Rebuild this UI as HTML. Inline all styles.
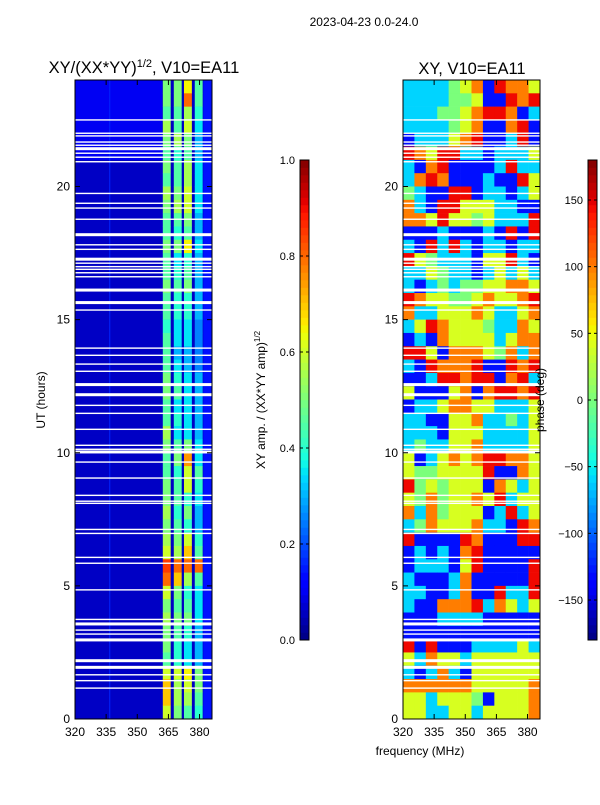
<!DOCTYPE html>
<html><head><meta charset="utf-8"><style>
body{margin:0;background:#fff;width:600px;height:800px;overflow:hidden}
svg text{font-family:"Liberation Sans",sans-serif;fill:#000}
</style></head><body>
<svg id="fig" width="600" height="800" xmlns="http://www.w3.org/2000/svg">
<text x="364" y="26" font-size="12" text-anchor="middle">2023-04-23 0.0-24.0</text>
<text x="144" y="73" font-size="16.5" text-anchor="middle">XY/(XX*YY)<tspan font-size="11" dy="-6">1/2</tspan><tspan dy="6">, V10=EA11</tspan></text>
<text x="472" y="74" font-size="16.5" text-anchor="middle">XY, V10=EA11</text>
<text transform="translate(45,400) rotate(-90)" font-size="12" text-anchor="middle">UT (hours)</text>
<text x="420" y="755" font-size="12" text-anchor="middle">frequency (MHz)</text>
<text transform="translate(265,400) rotate(-90)" font-size="12" text-anchor="middle">XY amp. / (XX*YY amp)<tspan font-size="8" dy="-5">1/2</tspan></text>
<g id="amp"></g>
<g id="phase"></g>
<g id="cbars"></g>
<g id="axes"></g>
<text transform="translate(544,400) rotate(-90)" font-size="12" text-anchor="middle">phase (deg)</text>
</svg>
<script>
const freqTicks=[320,335,350,365,380];
const hourTicks=[0,5,10,15,20];
const ampTicks=[0.0,0.2,0.4,0.6,0.8,1.0];
const phaseTicks=[-150,-100,-50,0,50,100,150];
const bandCenters=[364.2,369.5,374.4,379.6];
const gapHours=[22.50,22.0,21.90,21.67,21.55,21.42,21.25,21.10,20.93,19.74,19.37,19.19,18.77,18.19,17.81,17.64,17.27,17.12,16.99,16.89,16.76,16.61,16.11,15.64,15.36,13.93,13.66,13.33,13.06,12.56,12.18,11.78,11.48,10.88,10.28,10.13,10.03,9.65,9.05,8.40,8.18,8.10,7.12,6.97,6.07,5.85,4.85,3.74,3.57,3.34,3.19,2.97,2.19,1.94,1.66,1.44,1.16];
const gapThick=[21.42,18.19,17.27,16.11,15.64,12.56,12.18,10.03,3.57,2.97,2.19,1.94];
const ampRows=[
[0.5,0.5,0.65,0.45],[0.5,0.5,0.8,0.45],[0.45,0.45,0.55,0.4],[0.55,0.45,0.6,0.35],[0.5,0.55,0.5,0.3],[0.45,0.4,0.45,0.3],
[0.5,0.45,0.55,0.35],[0.45,0.45,0.55,0.35],[0.55,0.5,0.6,0.35],[0.5,0.55,0.6,0.35],[0.45,0.45,0.5,0.3],[0.45,0.4,0.45,0.3],
[0.5,0.5,0.65,0.35],[0.45,0.35,0.4,0.3],[0.45,0.4,0.45,0.3],[0.5,0.45,0.5,0.3],[0.45,0.4,0.4,0.3],[0.45,0.4,0.4,0.3],
[0.4,0.35,0.35,0.25],[0.45,0.35,0.35,0.25],[0.45,0.3,0.3,0.25],[0.45,0.35,0.3,0.25],[0.5,0.4,0.35,0.3],[0.5,0.45,0.35,0.3],
[0.45,0.35,0.35,0.3],[0.45,0.4,0.35,0.3],[0.55,0.35,0.35,0.3],[0.5,0.45,0.5,0.35],[0.45,0.5,0.75,0.35],[0.45,0.4,0.6,0.45],
[0.5,0.45,0.6,0.4],[0.5,0.45,0.4,0.35],[0.55,0.4,0.5,0.3],[0.5,0.45,0.4,0.3],[0.55,0.5,0.6,0.4],[0.6,0.55,0.7,0.45],
[0.85,0.8,0.8,0.8],[0.8,0.7,0.55,0.45],[0.6,0.5,0.4,0.35],[0.5,0.45,0.45,0.35],[0.55,0.5,0.5,0.35],[0.5,0.45,0.4,0.3],
[0.5,0.4,0.35,0.3],[0.45,0.4,0.35,0.3],[0.6,0.6,0.65,0.5],[0.7,0.55,0.6,0.5],[0.7,0.55,0.55,0.45],[0.6,0.5,0.45,0.4]];
const B=-130,C=-60,G=0,Y=40,O=100,R=145;
const phaseRows=[
[C,C,C,C,G,Y,O,B,R,O,O,Y],[C,C,C,C,G,G,Y,B,B,R,O,R],[C,C,C,G,G,Y,O,R,R,O,B,C],[C,C,C,C,G,Y,O,B,B,O,R,B],
[B,C,C,C,Y,O,R,B,B,C,R,B],[R,O,Y,R,R,C,C,B,C,C,C,Y],[C,B,O,R,B,B,B,B,C,R,C,C],[C,O,R,O,B,B,B,C,B,B,R,Y],
[G,C,B,B,R,R,B,C,C,B,C,Y],[O,C,B,R,R,Y,Y,Y,C,C,B,B],[O,O,Y,R,Y,Y,G,Y,C,C,C,R],[B,B,B,C,B,B,B,C,B,R,B,R],
[C,B,R,C,R,C,B,C,C,B,C,C],[R,Y,G,C,C,C,B,Y,Y,R,C,B],[C,C,Y,G,C,C,B,C,Y,C,Y,C],[C,B,C,G,C,G,G,Y,Y,O,O,Y],
[R,O,Y,Y,G,G,Y,O,Y,Y,O,R],[O,C,C,Y,Y,Y,O,Y,C,C,Y,O],[C,Y,R,O,Y,Y,Y,G,C,C,O,Y],[B,C,B,O,Y,Y,Y,Y,C,Y,O,O],
[R,R,Y,B,O,O,O,Y,G,O,C,O],[C,B,R,O,O,O,R,B,B,R,O,R],[B,B,C,R,R,O,R,R,B,O,R,C],[Y,B,B,B,Y,O,B,O,R,R,O,R],
[B,C,C,Y,O,O,Y,Y,C,C,C,Y],[C,C,B,B,Y,Y,O,C,C,G,C,Y],[C,C,C,B,Y,Y,Y,C,C,C,C,Y],[C,G,C,C,Y,Y,O,C,C,C,C,Y],
[Y,B,C,Y,O,Y,O,R,R,O,O,Y],[Y,G,G,Y,Y,Y,Y,R,B,B,O,Y],[R,G,Y,G,Y,Y,Y,B,O,Y,C,Y],[Y,G,O,G,Y,Y,O,Y,R,C,Y,Y],
[O,C,O,G,Y,Y,Y,B,C,R,C,Y],[C,G,O,Y,Y,Y,O,C,C,B,R,O],[R,B,B,B,B,R,O,B,B,B,R,R],[B,C,B,C,B,O,R,B,B,B,B,B],
[B,C,C,C,B,Y,R,B,B,B,B,R],[C,B,B,B,C,O,B,B,B,B,B,R],[C,C,B,B,C,O,B,B,R,C,C,R],[C,B,B,O,O,O,R,C,O,Y,C,Y],
[B,B,B,C,C,C,C,B,B,B,B,B],[B,B,B,B,B,B,B,B,B,B,B,B],[R,B,R,B,B,B,C,C,C,C,Y,C],[Y,C,O,Y,Y,C,Y,Y,Y,Y,Y,Y],
[C,B,C,O,C,B,Y,Y,Y,Y,Y,Y],[O,O,O,O,O,O,Y,Y,Y,Y,Y,O],[Y,Y,C,Y,Y,Y,G,B,Y,Y,Y,O],[Y,Y,C,C,Y,Y,C,Y,Y,Y,Y,O]];

const NS='http://www.w3.org/2000/svg';
function jet(v){v=Math.max(0,Math.min(1,v));
 function p(pts){for(let i=1;i<pts.length;i++){if(v<=pts[i][0]){const a=pts[i-1],b=pts[i];return a[1]+(b[1]-a[1])*(v-a[0])/(b[0]-a[0]);}}return pts[pts.length-1][1];}
 const r=p([[0,0],[0.35,0],[0.66,1],[0.89,1],[1,0.5]]),g=p([[0,0],[0.125,0],[0.375,1],[0.64,1],[0.91,0],[1,0]]),b=p([[0,0.5],[0.11,1],[0.34,1],[0.65,0],[1,0]]);
 return `rgb(${Math.round(r*255)},${Math.round(g*255)},${Math.round(b*255)})`;}
function el(t,a,parent){const e=document.createElementNS(NS,t);for(const k in a)e.setAttribute(k,a[k]);parent.appendChild(e);return e;}
const Y0=719,Y1=80;
const yS=h=>Y0-(h/24)*(Y0-Y1);
const fMin=320,fMax=386;
const xL=f=>75+(f-fMin)*(212-75)/(fMax-fMin);
const xR=f=>403+(f-fMin)*(540-403)/(fMax-fMin);

const amp=document.getElementById('amp');
const bgRect=el('rect',{x:75,y:Y1,width:137,height:Y0-Y1,fill:jet(0.06)},amp);


const topReg=el('rect',{x:75,y:yS(24),width:xL(362)-75,height:yS(21)-yS(24),fill:jet(0.1)},amp);


const vLine=el('rect',{x:xL(336.5),y:Y1,width:1,height:Y0-Y1,fill:jet(0.16)},amp);


const edgeReg=el('rect',{x:xL(381.8),y:Y1,width:212-xL(381.8),height:Y0-Y1,fill:jet(0.14)},amp);


ampRows.forEach((row,i)=>{const h0=24-i*0.5;
 row.forEach((v,j)=>{const c=bandCenters[j];
  const r=el('rect',{x:xL(c-1.9),y:yS(h0),width:xL(c+1.9)-xL(c-1.9),height:yS(h0-0.5)-yS(h0)+0.3,fill:jet(v)},amp);
  
  });});
const ph=document.getElementById('phase');
const ncol=12,cw=(fMax-fMin)/ncol;
phaseRows.forEach((row,i)=>{const h0=24-i*0.5;
 row.forEach((v,j)=>{const f0=fMin+j*cw;
  const r=el('rect',{x:xR(f0),y:yS(h0),width:xR(f0+cw)-xR(f0)+0.3,height:yS(h0-0.5)-yS(h0)+0.3,fill:jet((v+180)/360)},ph);
  
  });});
[[amp,xL],[ph,xR]].forEach(([g,xs])=>{gapHours.forEach(h=>{const th=gapThick.includes(h)?3:1.4;
 const r=el('rect',{x:xs(fMin),y:yS(h)-th/2,width:137,height:th,fill:'#fff'},g);
 
 });});

const ax=document.getElementById('axes');
function panel(x0,xs,name){
 const f=el('rect',{x:x0,y:Y1,width:137,height:Y0-Y1,fill:'none',stroke:'#000','stroke-width':1},ax);
 
 
 freqTicks.forEach(t=>{const x=xs(t);
  el('line',{x1:x,y1:Y0,x2:x,y2:Y0-5,stroke:'#000'},ax);el('line',{x1:x,y1:Y1,x2:x,y2:Y1+5,stroke:'#000'},ax);
  const tx=el('text',{x:x,y:Y0+17,'font-size':12,'text-anchor':'middle'},ax);tx.textContent=t;
  
  });
 hourTicks.forEach(t=>{const y=yS(t);
  el('line',{x1:x0,y1:y,x2:x0+5,y2:y,stroke:'#000'},ax);el('line',{x1:x0+137,y1:y,x2:x0+132,y2:y,stroke:'#000'},ax);
  const tx=el('text',{x:x0-5,y:y+4,'font-size':12,'text-anchor':'end'},ax);tx.textContent=t;
  
  });}
panel(75,xL,'amp-axes');panel(403,xR,'phase-axes');

const cb=document.getElementById('cbars');
function cbar(x0,ticks,toFrac,name,fmt){
 const n=64,h=480;
 for(let i=0;i<n;i++){const r=el('rect',{x:x0,y:640-(i+1)*h/n,width:9,height:h/n+0.3,fill:jet((i+0.5)/n)},cb);
  
  }
 const f=el('rect',{x:x0,y:160,width:9,height:480,fill:'none',stroke:'#000'},cb);
 
 
 ticks.forEach(t=>{const y=640-toFrac(t)*480;
  el('line',{x1:x0,y1:y,x2:x0+3,y2:y,stroke:'#000'},cb);el('line',{x1:x0+9,y1:y,x2:x0+6,y2:y,stroke:'#000'},cb);
  const tx=el('text',{x:x0-5,y:y+4,'font-size':11,'text-anchor':'end'},cb);tx.textContent=fmt(t);
  
  });}
cbar(300,ampTicks,t=>t,'amp-colorbar',t=>t.toFixed(1));
cbar(588,phaseTicks,t=>(t+180)/360,'phase-colorbar',t=>t<0?'\u2212'+(-t):String(t));
</script>
</body></html>
